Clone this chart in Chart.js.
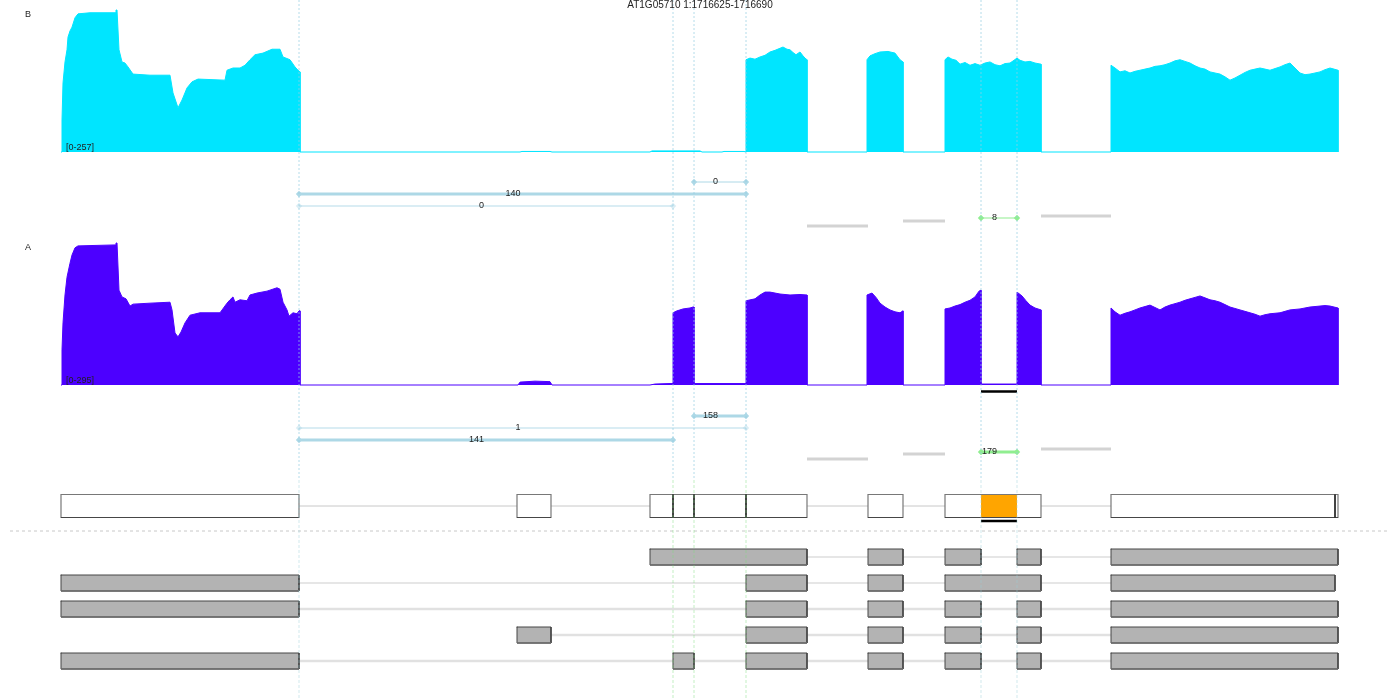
<!DOCTYPE html>
<html><head><meta charset="utf-8">
<script src="https://cdn.jsdelivr.net/npm/chart.js@4.4.0/dist/chart.umd.min.js"></script>
<style>html,body{margin:0;padding:0;background:#fff;}canvas{display:block;}</style>
</head><body>
<canvas id="c" width="1400" height="700"></canvas>
<script>
// ---------------- DATA ----------------
const title = 'AT1G05710 1:1716625-1716690';
const trackNames = ['B', 'A'];
const trackRanges = [257, 295];
// coverage: [position, read count]
const coverageB = [[61,0],[62,58],[63,125],[65,163],[67,185],[68,208],[70,219],[72,226],[75,243],[78,250],[90,252],[115,252],[116,257],[117,257],[119,185],[122,163],[125,161],[128,154],[133,141],[150,139],[170,139],[173,107],[178,80],[182,94],[187,116],[192,127],[198,132],[225,130],[227,148],[233,152],[240,152],[245,157],[250,167],[255,176],[263,179],[272,186],[280,186],[283,172],[290,167],[295,154],[298,148],[300,145],[300,0],
 [520,0],[522,1],[550,1],[552,0],[650,0],[652,2],[700,2],[702,0],[722,0],[724,1],[744,1],
 [746,0],[746,167],[750,170],[755,168],[760,172],[765,175],[770,181],[775,184],[783,190],[787,186],[790,185],[793,180],[796,176],[800,181],[803,174],[805,170],[807,167],[807,0],
 [867,0],[867,167],[870,174],[875,178],[880,181],[888,182],[895,179],[900,167],[903,163],[903,0],
 [945,0],[945,167],[948,172],[952,168],[956,166],[960,159],[965,162],[970,157],[975,160],[980,157],[985,161],[990,163],[995,158],[1000,156],[1005,160],[1010,161],[1014,166],[1017,170],[1020,166],[1025,163],[1030,164],[1035,161],[1041,159],[1041,0],
 [1111,0],[1111,157],[1115,152],[1120,145],[1125,147],[1130,143],[1135,146],[1140,148],[1145,150],[1150,152],[1155,155],[1160,156],[1165,158],[1170,161],[1175,165],[1180,167],[1185,164],[1190,161],[1195,156],[1200,152],[1205,150],[1210,145],[1215,143],[1220,141],[1225,136],[1230,130],[1235,134],[1240,139],[1245,144],[1250,148],[1255,150],[1260,152],[1265,150],[1270,148],[1275,151],[1280,154],[1285,158],[1290,161],[1295,152],[1300,143],[1305,140],[1310,141],[1315,143],[1320,145],[1325,149],[1330,152],[1334,150],[1338,148],[1338,0]];
const coverageA = [[61,0],[62,73],[63,129],[65,187],[67,224],[70,253],[72,270],[75,285],[78,289],[115,291],[116,295],[117,295],[119,197],[122,183],[126,179],[130,164],[133,168],[150,170],[170,172],[172,156],[175,108],[178,100],[181,110],[185,129],[190,145],[200,150],[220,150],[227,170],[230,177],[233,183],[235,172],[240,177],[247,175],[250,187],[257,191],[267,195],[277,202],[280,199],[283,172],[287,156],[289,143],[293,150],[297,148],[299,154],[300,154],[300,0],
 [518,0],[520,6],[535,8],[550,7],[552,0],[650,0],[655,2],[670,3],[673,3],
 [673,150],[677,154],[683,158],[690,160],[693,162],[694,162],[694,3],[746,3],
 [746,175],[755,179],[760,187],[765,193],[770,193],[775,191],[780,189],[790,187],[800,188],[807,187],[807,0],
 [867,0],[867,187],[872,191],[876,182],[880,170],[885,162],[890,156],[895,152],[900,150],[903,154],[903,0],
 [945,0],[945,158],[950,160],[955,164],[960,167],[965,172],[970,176],[975,183],[979,195],[981,197],[981,2],[1017,2],
 [1017,193],[1022,185],[1026,175],[1030,166],[1035,160],[1041,156],[1041,0],
 [1111,0],[1111,160],[1115,152],[1120,145],[1125,149],[1130,152],[1135,156],[1140,160],[1145,163],[1150,166],[1155,161],[1160,156],[1165,162],[1170,166],[1175,169],[1180,172],[1185,176],[1190,179],[1195,182],[1200,185],[1205,181],[1210,177],[1215,175],[1220,172],[1225,167],[1230,162],[1235,159],[1240,156],[1245,153],[1250,150],[1255,147],[1260,143],[1265,146],[1270,148],[1275,149],[1280,150],[1285,153],[1290,156],[1295,157],[1300,158],[1305,160],[1310,162],[1315,163],[1320,164],[1325,165],[1330,164],[1334,162],[1338,160],[1338,0]];
// splice junctions
const junctionStart = [694, 299, 299, 981];
const junctionEnd = [746, 746, 673, 1017];
const junctionCountsB = [0, 140, 0, 8];
const junctionCountsA = [158, 1, 141, 179];
const junctionNovel = [false, false, false, true];
// unlabelled exon-to-exon links
const linkStart = [807, 903, 1041];
const linkEnd = [868, 945, 1111];
// gene model
const geneExons = [[61,299],[517,551],[650,807],[868,903],[945,1041],[1111,1338]];
const geneDividers = [673, 694, 746, 1335];
const focusRegion = [981, 1017];
// transcripts
const transcripts = [
  [[650,807],[868,903],[945,981],[1017,1041],[1111,1338]],
  [[61,299],[746,807],[868,903],[945,1041],[1111,1335]],
  [[61,299],[746,807],[868,903],[945,981],[1017,1041],[1111,1338]],
  [[517,551],[746,807],[868,903],[945,981],[1017,1041],[1111,1338]],
  [[61,299],[673,694],[746,807],[868,903],[945,981],[1017,1041],[1111,1338]]
];
const splicePositions = [299, 673, 694, 746, 981, 1017];

// ---------------- LAYOUT ----------------
const H = 700;
const trackBase = [152, 385];
const trackTop = [10, 243];
const juncTop = [182, 416];
const juncStep = 12;
const linkTop = [226, 459];
const linkStep = -5;
const geneY = 506, geneH = 23;
const sepY = 531;
const txY0 = 557, txStep = 26, txH = 16;
const covColors = ['rgb(0,229,255)', 'rgb(76,0,255)'];

function covScale(i) {
  const R = trackRanges[i];
  const range = H * R / (trackBase[i] - trackTop[i]);
  const max = R + trackTop[i] * range / H;
  return { type: 'linear', display: false, min: max - range, max: max };
}

const ds = [];
function add(o) {
  ds.push(Object.assign({
    type: 'line', yAxisID: 'yp', pointRadius: 0, pointHoverRadius: 0, fill: false,
    tension: 0, spanGaps: false, borderCapStyle: 'butt', borderJoinStyle: 'miter', borderWidth: 1
  }, o));
}
const P = arr => arr.map(p => ({ x: p[0], y: p[1] }));
function hbars(iv, yc) { const d = []; iv.forEach(([a, b]) => d.push({x:a,y:yc},{x:b,y:yc},{x:b,y:null})); return d; }
function rects(iv, t, b) { const d = []; iv.forEach(([a, c]) => d.push({x:a,y:t},{x:c,y:t},{x:c,y:b},{x:a,y:b},{x:a,y:t},{x:a,y:null})); return d; }
function vlines(xs, t, b) { const d = []; xs.forEach(x => d.push({x:x,y:t},{x:x,y:b},{x:x,y:null})); return d; }

// coverage
[coverageB, coverageA].forEach((cov, i) => {
  add({ yAxisID: i === 0 ? 'yB' : 'yA', data: P(cov), borderColor: covColors[i], backgroundColor: covColors[i], fill: { value: 0 }, borderWidth: 1 });
});
// links + junctions
const juncLabels = [];
[junctionCountsB, junctionCountsA].forEach((counts, t) => {
  linkStart.forEach((s, k) => {
    const y = linkTop[t] + k * linkStep;
    add({ data: [{x:s,y:y},{x:linkEnd[k],y:y}], borderColor: 'rgb(211,211,211)', borderWidth: 3 });
  });
  counts.forEach((c, k) => {
    const y = juncTop[t] + k * juncStep;
    let col = junctionNovel[k] ? 'rgb(144,238,144)' : 'rgb(173,216,230)';
    if (c <= 1 && !junctionNovel[k]) col = (k === 0 && t === 0) ? 'rgb(173,216,230)' : 'rgba(173,216,230,0.45)';
    const w = (k === 0 && t === 0) ? 1 : (c <= 1 ? 2 : 1 + Math.min(c, 150) / 75);
    add({ data: [{x:junctionStart[k],y:y},{x:junctionEnd[k],y:y}], borderColor: col, borderWidth: w,
      pointRadius: 3.2, pointStyle: 'rectRot', pointBackgroundColor: col, pointBorderColor: col, pointBorderWidth: 0 });
    juncLabels.push({ x: (junctionStart[k] + junctionEnd[k]) / 2, y: y, text: String(c) });
  });
});
// gene model
add({ data: [{x:geneExons[0][1],y:geneY},{x:geneExons[geneExons.length-1][0],y:geneY}], borderColor: 'rgb(200,200,200)', borderWidth: 1 });
add({ data: hbars(geneExons, geneY), borderColor: '#ffffff', borderWidth: geneH });
add({ data: hbars([focusRegion], geneY), borderColor: 'rgb(255,165,0)', borderWidth: geneH });
add({ data: rects(geneExons, geneY - geneH/2, geneY + geneH/2), borderColor: 'rgb(120,120,120)', borderWidth: 1.2, borderCapStyle: 'square' });
add({ data: hbars(geneExons, geneY + geneH/2), borderColor: 'rgb(70,70,70)', borderWidth: 1.2 });
add({ data: vlines(geneDividers, geneY - geneH/2, geneY + geneH/2), borderColor: 'rgb(40,40,40)', borderWidth: 1 });
// separator
add({ data: [{x:10,y:sepY},{x:1390,y:sepY}], borderColor: 'rgb(200,200,200)', borderWidth: 1, borderDash: [3, 3] });
// transcripts
transcripts.forEach((ex, r) => {
  const yc = txY0 + r * txStep;
  add({ data: [{x:ex[0][1],y:yc},{x:ex[ex.length-1][0],y:yc}], borderColor: r >= 2 ? 'rgb(225,225,225)' : 'rgb(205,205,205)', borderWidth: r >= 2 ? 2.5 : 1.2 });
  add({ data: hbars(ex, yc), borderColor: 'rgb(179,179,179)', borderWidth: txH });
  add({ data: rects(ex, yc - txH/2, yc + txH/2), borderColor: 'rgb(70,70,70)', borderWidth: 1, borderCapStyle: 'square' });
  add({ data: hbars(ex, yc + txH/2), borderColor: 'rgb(110,110,110)', borderWidth: 1.5 });
});
// focus bars
add({ data: hbars([focusRegion], trackBase[1] + 6.5), borderColor: '#000', borderWidth: 2.5 });
add({ data: hbars([focusRegion], geneY + geneH/2 + 3.5), borderColor: '#000', borderWidth: 2.5 });
// splice position guides
add({ data: vlines(splicePositions, 0, 480), borderColor: 'rgba(150,205,225,0.7)', borderWidth: 1, borderDash: [2, 2] });
add({ data: vlines(splicePositions.filter(x => x >= 673 && x <= 746), 480, H), borderColor: 'rgba(120,220,120,0.45)', borderWidth: 1, borderDash: [3, 2] });
add({ data: vlines(splicePositions.filter(x => x < 673 || x > 746), 480, H), borderColor: 'rgba(150,205,215,0.45)', borderWidth: 1, borderDash: [3, 2] });

const N = ds.length;
ds.forEach((d, i) => { d.order = N - i; });

const FONT = '"Liberation Sans", Arial, Helvetica, sans-serif';
const textPlugin = {
  id: 'texts',
  afterDatasetsDraw(chart) {
    const ctx = chart.ctx, xs = chart.scales.x, ys = chart.scales.yp;
    ctx.save();
    ctx.fillStyle = '#222';
    ctx.textBaseline = 'middle';
    ctx.font = '10px ' + FONT;
    ctx.textAlign = 'center';
    ctx.fillText(title, xs.getPixelForValue(700), 5);
    ctx.font = '9px ' + FONT;
    ctx.textAlign = 'left';
    trackNames.forEach((n, i) => {
      ctx.fillText(n, 25, ys.getPixelForValue(trackTop[i] + 5));
      ctx.fillText('[0-' + trackRanges[i] + ']', 66, ys.getPixelForValue(trackBase[i] - 4));
    });
    ctx.textAlign = 'right';
    juncLabels.forEach(l => {
      ctx.fillText(l.text, xs.getPixelForValue(l.x) - 2, ys.getPixelForValue(l.y));
    });
    ctx.restore();
  }
};

new Chart(document.getElementById('c'), {
  data: { datasets: ds },
  options: {
    responsive: false, animation: false, events: [],
    layout: { padding: 0, autoPadding: false },
    plugins: { legend: { display: false }, tooltip: { enabled: false }, title: { display: false } },
    scales: {
      x: { type: 'linear', display: false, min: 0, max: 1400 },
      yp: { type: 'linear', display: false, min: 0, max: H, reverse: true },
      yB: covScale(0),
      yA: covScale(1)
    }
  },
  plugins: [textPlugin]
});
</script>
</body></html>
